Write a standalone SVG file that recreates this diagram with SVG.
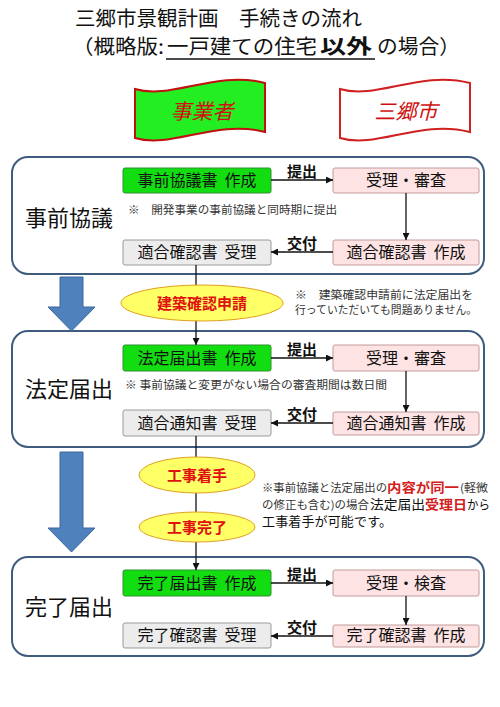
<svg xmlns="http://www.w3.org/2000/svg" width="500" height="707" viewBox="0 0 500 707">
<defs>
<style>
text{font-family:"Noto Sans CJK JP","Noto Sans CJK SC",sans-serif;}
.sec{fill:#fff;stroke:#3f5b7d;stroke-width:2;}
.g{fill:#11dd11;stroke:#2f8f2f;stroke-width:1;}
.p{fill:#fde3e3;stroke:#c29a9a;stroke-width:1;}
.y{fill:#ececec;stroke:#9a9a9a;stroke-width:1;}
.bt{font-size:16px;fill:#111;text-anchor:middle;}
.lbl{font-size:22px;fill:#111;}
.cl{font-size:15px;font-weight:bold;fill:#111;text-anchor:middle;}
.note{font-size:11px;fill:#333;}
.ln{stroke:#111;stroke-width:1.3;fill:none;}
.ell{fill:#ffff66;stroke:#e0a020;stroke-width:1;}
.et{font-size:15px;font-weight:bold;fill:#e01010;text-anchor:middle;}
.blue{fill:#4f81bd;stroke:#3a679c;stroke-width:1;}
.red{fill:#d42020;font-weight:bold;}
</style>
<marker id="ah" viewBox="0 0 10 10" refX="10" refY="5" markerWidth="7" markerHeight="7" orient="auto" markerUnits="userSpaceOnUse">
<path d="M0,0 L10,5 L0,10 Z" fill="#111"/>
</marker>
</defs>

<g id="title">
<text x="75" y="26" font-size="20" fill="#111" textLength="287" lengthAdjust="spacingAndGlyphs">三郷市景観計画　手続きの流れ</text>
<text y="54" font-size="20" fill="#111"><tspan x="72" textLength="92" lengthAdjust="spacingAndGlyphs">（概略版:</tspan><tspan x="167" textLength="150" lengthAdjust="spacingAndGlyphs">一戸建ての住宅</tspan><tspan x="320" font-weight="bold" textLength="52" lengthAdjust="spacingAndGlyphs">以外</tspan><tspan x="377" textLength="83" lengthAdjust="spacingAndGlyphs">の場合）</tspan></text>
<line x1="166" y1="59" x2="375" y2="59" stroke="#111" stroke-width="1.5"/>
</g>

<g id="banner-jigyosha">
<path d="M135,89 C172,100 215,70 265,83 L265,132 C215,119 172,149 135,138 Z" fill="#22ee22" stroke="#c01010" stroke-width="2"/>
<text x="202" y="119" font-size="21" fill="#d01010" font-style="italic" text-anchor="middle">事業者</text>
</g>
<g id="banner-misato">
<path d="M340,89 C377,100 420,70 470,83 L470,132 C420,119 377,149 340,138 Z" fill="#fff" stroke="#d02020" stroke-width="2"/>
<text x="406" y="119" font-size="21" fill="#d01010" font-style="italic" text-anchor="middle">三郷市</text>
</g>

<g id="section-jizen">
<rect class="sec" x="12" y="157" width="472" height="117" rx="16"/>
<text class="lbl" x="25" y="226">事前協議</text>
<text class="note" x="128" y="214" textLength="209" lengthAdjust="spacingAndGlyphs">※　開発事業の事前協議と同時期に提出</text>
</g>
<g id="n1a"><rect class="g" x="123" y="168" width="148" height="25" rx="2"/><text class="bt" x="197" y="186">事前協議書<tspan dx="7">作成</tspan></text></g>
<g id="n1b"><rect class="p" x="333" y="168" width="146" height="25" rx="2"/><text class="bt" x="406" y="186">受理・審査</text></g>
<g id="n1c"><rect class="y" x="123" y="240" width="148" height="25" rx="2"/><text class="bt" x="197" y="258">適合確認書<tspan dx="7">受理</tspan></text></g>
<g id="n1d"><rect class="p" x="333" y="240" width="146" height="25" rx="2"/><text class="bt" x="406" y="258">適合確認書<tspan dx="7">作成</tspan></text></g>

<g id="section-hotei">
<rect class="sec" x="12" y="331" width="472" height="116" rx="16"/>
<text class="lbl" x="25" y="397">法定届出</text>
<text class="note" x="125" y="389" textLength="262" lengthAdjust="spacingAndGlyphs">※ 事前協議と変更がない場合の審査期間は数日間</text>
</g>
<g id="n2a"><rect class="g" x="123" y="345" width="148" height="26" rx="2"/><text class="bt" x="197" y="364">法定届出書<tspan dx="7">作成</tspan></text></g>
<g id="n2b"><rect class="p" x="333" y="345" width="146" height="26" rx="2"/><text class="bt" x="406" y="364">受理・審査</text></g>
<g id="n2c"><rect class="y" x="123" y="410" width="148" height="26" rx="2"/><text class="bt" x="197" y="429">適合通知書<tspan dx="7">受理</tspan></text></g>
<g id="n2d"><rect class="p" x="333" y="412" width="146" height="23" rx="2"/><text class="bt" x="406" y="429">適合通知書<tspan dx="7">作成</tspan></text></g>

<g id="section-kanryo">
<rect class="sec" x="12" y="557" width="472" height="99" rx="16"/>
<text class="lbl" x="25" y="615">完了届出</text>
</g>
<g id="n3a"><rect class="g" x="123" y="570" width="148" height="26" rx="2"/><text class="bt" x="197" y="589">完了届出書<tspan dx="7">作成</tspan></text></g>
<g id="n3b"><rect class="p" x="333" y="570" width="146" height="26" rx="2"/><text class="bt" x="406" y="589">受理・検査</text></g>
<g id="n3c"><rect class="y" x="123" y="623" width="148" height="25" rx="2"/><text class="bt" x="197" y="641">完了確認書<tspan dx="7">受理</tspan></text></g>
<g id="n3d"><rect class="p" x="333" y="625" width="146" height="22" rx="2"/><text class="bt" x="406" y="641">完了確認書<tspan dx="7">作成</tspan></text></g>

<g id="connectors">
<line class="ln" x1="271" y1="180" x2="333" y2="180" marker-end="url(#ah)"/>
<line class="ln" x1="406" y1="193" x2="406" y2="240" marker-end="url(#ah)"/>
<line class="ln" x1="333" y1="252" x2="271" y2="252" marker-end="url(#ah)"/>
<line class="ln" x1="196" y1="265" x2="196" y2="345" marker-end="url(#ah)"/>
<line class="ln" x1="271" y1="358" x2="333" y2="358" marker-end="url(#ah)"/>
<line class="ln" x1="406" y1="371" x2="406" y2="412" marker-end="url(#ah)"/>
<line class="ln" x1="333" y1="423" x2="271" y2="423" marker-end="url(#ah)"/>
<line class="ln" x1="196" y1="436" x2="196" y2="570" marker-end="url(#ah)"/>
<line class="ln" x1="271" y1="583" x2="333" y2="583" marker-end="url(#ah)"/>
<line class="ln" x1="406" y1="596" x2="406" y2="625" marker-end="url(#ah)"/>
<line class="ln" x1="333" y1="636" x2="271" y2="636" marker-end="url(#ah)"/>
<text class="cl" x="302" y="177">提出</text>
<text class="cl" x="302" y="249">交付</text>
<text class="cl" x="302" y="355">提出</text>
<text class="cl" x="302" y="420">交付</text>
<text class="cl" x="302" y="580">提出</text>
<text class="cl" x="302" y="633">交付</text>
</g>

<g id="arrow-big-1"><path class="blue" d="M60,277 L83,277 L83,307 L95,307 L71.5,331 L48,307 L60,307 Z"/></g>
<g id="arrow-big-2"><path class="blue" d="M60,452 L83,452 L83,528 L95,528 L71.5,552 L48,528 L60,528 Z"/></g>

<g id="e-kakunin">
<ellipse class="ell" cx="202" cy="303" rx="81" ry="18"/>
<text class="et" x="202" y="309">建築確認申請</text>
</g>
<g id="e-chakushu">
<ellipse class="ell" cx="197" cy="475" rx="58" ry="18"/>
<text class="et" x="197" y="481">工事着手</text>
</g>
<g id="e-kanryo">
<ellipse class="ell" cx="197" cy="527" rx="58" ry="15"/>
<text class="et" x="197" y="533">工事完了</text>
</g>

<g id="note-kakunin">
<text class="note" x="295" y="299" textLength="178" lengthAdjust="spacingAndGlyphs">※　建築確認申請前に法定届出を</text>
<text class="note" x="295" y="314" textLength="182" lengthAdjust="spacingAndGlyphs">行っていただいても問題ありません。</text>
</g>
<g id="note-chakushu">
<text x="262" y="492" font-size="11" fill="#333"><tspan textLength="125" lengthAdjust="spacingAndGlyphs">※事前協議と法定届出の</tspan><tspan x="387" font-size="13" class="red" textLength="72" lengthAdjust="spacingAndGlyphs">内容が同一</tspan><tspan x="460" font-size="11" textLength="28" lengthAdjust="spacingAndGlyphs">(軽微</tspan></text>
<text x="262" y="509" font-size="11" fill="#333"><tspan textLength="107" lengthAdjust="spacingAndGlyphs">の修正も含む)の場合</tspan><tspan x="370" font-size="13" fill="#111" textLength="55" lengthAdjust="spacingAndGlyphs">法定届出</tspan><tspan x="425" font-size="13" class="red" textLength="42" lengthAdjust="spacingAndGlyphs">受理日</tspan><tspan x="467" font-size="13" fill="#111" textLength="23" lengthAdjust="spacingAndGlyphs">から</tspan></text>
<text x="262" y="526" font-size="13" fill="#111" textLength="130" lengthAdjust="spacing">工事着手が可能です。</text>
</g>
</svg>
